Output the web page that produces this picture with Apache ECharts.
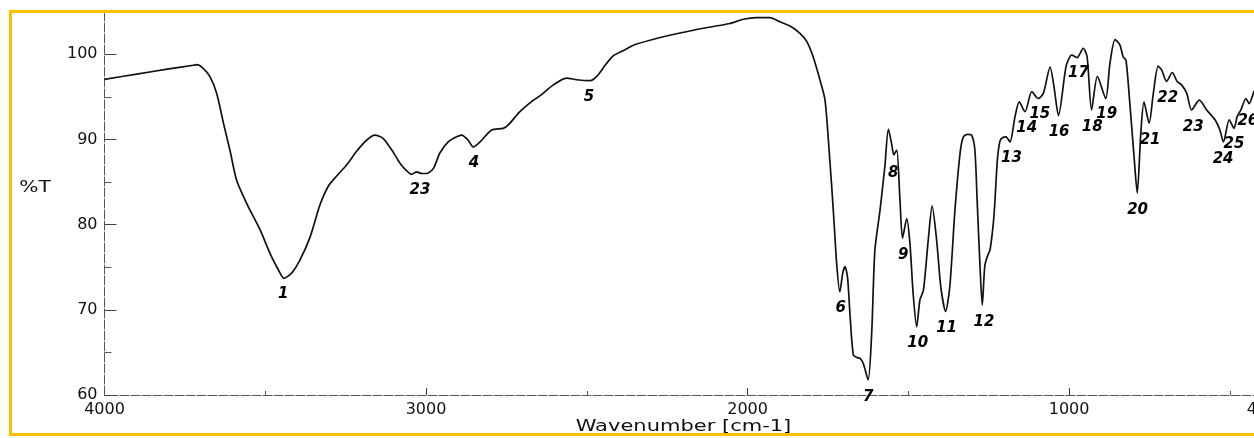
<!DOCTYPE html>
<html>
<head>
<meta charset="utf-8">
<title>IR spectrum</title>
<script src="https://cdn.jsdelivr.net/npm/echarts@6/dist/echarts.min.js"></script>
<style>
  html, body { margin: 0; padding: 0; background: #fff; overflow: hidden; }
  #stage { position: relative; width: 1254px; height: 438px; overflow: hidden; }
  #chart { position: absolute; left: 0; top: 0; width: 1300px; height: 438px; }
  #frame { position: absolute; left: 9px; top: 10px; width: 1300px; height: 420px;
           border: 3px solid #FFC000; border-right: none; pointer-events: none; }
</style>
</head>
<body>
<div id="stage">
  <div id="chart"></div>
  <div id="frame"></div>
</div>
<script>
// Wavenumber (cm-1) of each sampled point of the trace
const wavenumber = [
  4000, 3900, 3800, 3724, 3713, 3693, 3672, 3651, 3630, 3610, 3589, 3558, 3516, 3485, 3459, 3442,
  3418, 3392, 3361, 3330, 3304, 3278, 3247, 3216, 3185, 3159, 3133, 3102, 3081, 3060, 3045, 3029,
  3014, 2998, 2977, 2957, 2931, 2905, 2889, 2869, 2853, 2832, 2796, 2760, 2744, 2708, 2666, 2646,
  2604, 2563, 2531, 2490, 2469, 2443, 2418, 2387, 2360, 2345, 2262, 2158, 2055, 2013, 1972, 1930,
  1899, 1868, 1837, 1816, 1796, 1775, 1759, 1744, 1733, 1723, 1713, 1704, 1697, 1689, 1681, 1671,
  1660, 1650, 1640, 1625, 1614, 1604, 1588, 1573, 1562, 1552, 1545, 1536, 1526, 1518, 1505, 1495,
  1485, 1474, 1464, 1453, 1438, 1426, 1412, 1399, 1384, 1371, 1355, 1339, 1329, 1316, 1303, 1293,
  1286, 1277, 1270, 1262, 1252, 1246, 1236, 1231, 1223, 1215, 1207, 1196, 1184, 1168, 1155, 1137,
  1116, 1096, 1080, 1059, 1047, 1033, 1013, 1007, 992, 975, 956, 944, 930, 912, 886, 873,
  857, 842, 832, 823, 811, 798, 788, 777, 767, 751, 738, 723, 712, 697, 679, 664,
  650, 634, 619, 595, 572, 546, 531, 520, 502, 487, 477, 466, 450, 440, 425, 410, 400
];

// Transmittance (%T) at each wavenumber above
const transmittance = [
  97.05, 97.66, 98.27, 98.7, 98.77, 98.35, 97.36, 95.4, 91.9, 88.75, 85.2, 82.5, 79.37, 76.6, 74.67, 73.7,
  74.3, 75.85, 78.5, 82.3, 84.5, 85.7, 87.0, 88.6, 89.9, 90.5, 90.1, 88.5, 87.2, 86.3, 85.9, 86.2,
  86.0, 86.0, 86.6, 88.4, 89.7, 90.3, 90.5, 89.9, 89.1, 89.7, 91.1, 91.3, 91.7, 93.25, 94.6, 95.1,
  96.4, 97.2, 97.0, 96.9, 97.4, 98.7, 99.8, 100.4, 100.96, 101.2, 102.05, 102.9, 103.6, 104.1, 104.3, 104.3,
  103.8, 103.3, 102.45, 101.5, 99.7, 97.0, 94.6, 87.5, 81.5, 75.5, 72.1, 74.3, 75.06, 73.8, 69.2, 64.7,
  64.4, 64.3, 63.7, 61.76, 67.2, 77.0, 81.7, 86.8, 91.2, 89.5, 88.2, 88.75, 82.9, 78.4, 80.7, 77.8,
  71.9, 68.0, 71.15, 72.3, 78.2, 82.2, 78.2, 72.7, 69.8, 72.7, 81.7, 88.4, 90.3, 90.6, 90.5, 88.75,
  82.9, 75.06, 70.56, 75.2, 76.5, 77.0, 80.0, 82.5, 87.6, 89.8, 90.2, 90.3, 89.7, 92.7, 94.4, 93.25,
  95.6, 94.8, 95.4, 98.5, 96.2, 92.8, 97.75, 98.9, 99.9, 99.6, 100.7, 99.7, 93.45, 97.4, 94.8, 98.9,
  101.7, 101.1, 99.7, 99.3, 94.2, 88.0, 83.7, 90.7, 94.4, 91.9, 95.4, 98.6, 98.15, 96.8, 97.85, 96.8,
  96.4, 95.4, 93.45, 94.6, 93.45, 92.3, 91.1, 89.7, 92.3, 91.3, 92.7, 93.45, 94.8, 94.2, 95.6, 96.6, 97.3
];

// Band numbers and where each number is written (wavenumber, %T)
const bandNames = ['1', '23', '4', '5', '6', '7', '8', '9', '10', '11', '12', '13', '14',
                   '15', '16', '17', '18', '19', '20', '21', '22', '23', '24', '25', '26'];
const bandLabelWn = [3444, 3019, 2851, 2493, 1710, 1625, 1547, 1516, 1471, 1381, 1265, 1179, 1132,
                     1091, 1031, 971, 928, 883, 787, 748, 693, 614, 521, 487, 444];
const bandLabelT = [71.9, 84.1, 87.2, 95.0, 70.2, 59.8, 86.1, 76.4, 66.1, 67.8, 68.6, 87.8, 91.3,
                    93.0, 90.8, 97.75, 91.4, 93.0, 81.7, 89.9, 94.9, 91.5, 87.7, 89.5, 92.1];

// Axis ticks and labels
const xTickLabels = [4000, 3000, 2000, 1000, 400];
const xMajorTicks = [3000, 2000, 1000];
const xMinorTicks = [3500, 2500, 1500, 500];
const yTickLabels = [60, 70, 80, 90, 100];
const yMinorTicks = [65, 75, 85, 95];

const spectrum = wavenumber.map((w, i) => [w, transmittance[i]]);
const bandLabels = bandNames.map((n, i) => [bandLabelWn[i], bandLabelT[i], n]);

const FONT = 'DejaVu Sans';
const axisLineStyle = { color: '#555', width: 1, type: [9, 2] };
const plain = v => String(v);

const chart = echarts.init(document.getElementById('chart'), null, { renderer: 'canvas' });

chart.setOption({
  animation: false,
  backgroundColor: '#fff',
  grid: { left: 104.5, right: 38, top: 11.6, bottom: 43, outerBoundsMode: 'none' },
  xAxis: [
    {
      type: 'value', inverse: true, min: 400, max: 4000,
      axisLine: { show: true, onZero: false, lineStyle: axisLineStyle },
      axisTick: { show: true, inside: true, length: 7, customValues: xMajorTicks, lineStyle: { color: '#333' } },
      axisLabel: { customValues: xTickLabels, formatter: plain, margin: 7, color: '#111', fontFamily: FONT, fontSize: 16 },
      splitLine: { show: false }
    },
    {
      type: 'value', inverse: true, min: 400, max: 4000, position: 'bottom',
      axisLine: { show: false },
      axisTick: { show: true, inside: true, length: 4, customValues: xMinorTicks, lineStyle: { color: '#555' } },
      axisLabel: { show: false },
      splitLine: { show: false }
    }
  ],
  yAxis: [
    {
      type: 'value', min: 60, max: 105,
      axisLine: { show: true, onZero: false, lineStyle: axisLineStyle },
      axisTick: { show: true, inside: true, length: 12, customValues: yTickLabels, lineStyle: { color: '#444' } },
      axisLabel: { customValues: yTickLabels, formatter: plain, margin: 7, color: '#111', fontFamily: FONT, fontSize: 16 },
      splitLine: { show: false }
    },
    {
      type: 'value', min: 60, max: 105, position: 'left',
      axisLine: { show: false },
      axisTick: { show: true, inside: true, length: 7, customValues: yMinorTicks, lineStyle: { color: '#555' } },
      axisLabel: { show: false },
      splitLine: { show: false }
    }
  ],
  graphic: [
    {
      type: 'text', x: 35, y: 188, scaleX: 1.35,
      style: { text: '%T', x: 0, y: 0, align: 'center', verticalAlign: 'middle',
               font: '15px "DejaVu Sans"', fill: '#111' }
    },
    {
      type: 'text', x: 683.5, y: 427, scaleX: 1.4,
      style: { text: 'Wavenumber [cm-1]', x: 0, y: 0, align: 'center', verticalAlign: 'middle',
               font: '15px "DejaVu Sans"', fill: '#111' }
    }
  ],
  series: [
    {
      type: 'line', xAxisIndex: 0, yAxisIndex: 0,
      data: spectrum, showSymbol: false, smooth: 0.25,
      lineStyle: { color: '#111', width: 1.7 },
      z: 3
    },
    {
      type: 'scatter', xAxisIndex: 0, yAxisIndex: 0,
      data: bandLabels, symbolSize: 0, clip: false,
      itemStyle: { color: '#000', opacity: 1 },
      label: {
        show: true, position: 'inside',
        formatter: p => p.data[2],
        fontFamily: FONT, fontSize: 15, fontStyle: 'italic', fontWeight: 'bold', color: '#000',
        textBorderWidth: 0, opacity: 1
      },
      z: 4
    }
  ]
});
</script>
</body>
</html>
